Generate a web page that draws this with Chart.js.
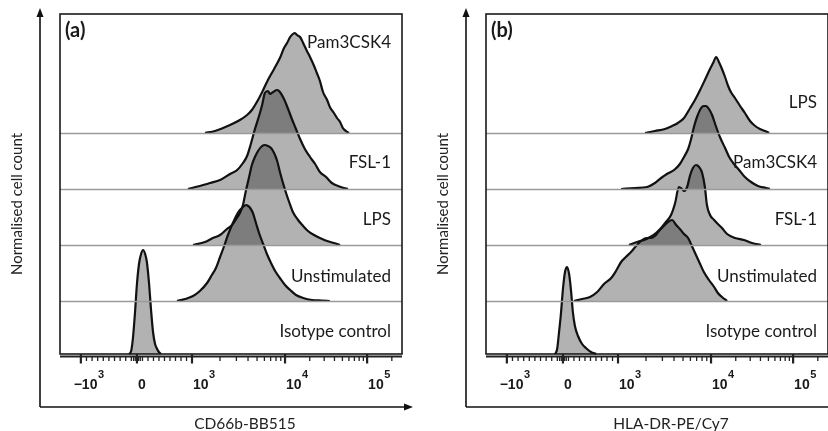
<!DOCTYPE html>
<html><head><meta charset="utf-8">
<script src="https://cdn.jsdelivr.net/npm/chart.js@4"></script>
<style>
html,body{margin:0;padding:0;background:#fff;overflow:hidden;width:828px;height:431px}
#wa{position:absolute;left:0;top:0;width:414px;height:431px}
#wb{position:absolute;left:426px;top:0;width:414px;height:431px}
</style></head><body>
<div id="wa"><canvas id="ca" width="414" height="431"></canvas></div>
<div id="wb"><canvas id="cb" width="414" height="431"></canvas></div>
<script>
// ---- axis ticks (display channel units 0-1000 of the biexponential axis) ----
const TICK_CH   = [61, 225, 386, 658, 898];
const TICK_BASE = ['\u221210', '0', '10', '10', '10'];
const TICK_EXP  = ['3', '', '3', '4', '5'];

// ---- row labels, bottom row first ----
const ROWS_A = ['Isotype control', 'Unstimulated', 'LPS', 'FSL-1', 'Pam3CSK4'];
const ROWS_B = ['Isotype control', 'Unstimulated', 'FSL-1', 'Pam3CSK4', 'LPS'];

// ---- panel (a): CD66b-BB515 histograms (x = channel, y = normalised count %) ----
const A_ISO_X = [202,208,213,219,225,231,237,243,249,254,260,266,272,278,284,289,295];
const A_ISO_Y = [0,3,15,40,70,90,100,104,100,92,72,45,22,10,5,2,0];
const A_UNS_X = [342,366,389,409,430,444,456,468,480,491,503,515,526,535,544,550,556,564,573,582,594,605,617,629,643,658,673,690,711,737,766,789];
const A_UNS_Y = [0,2,5,10,18,26,33,44,55,66,76,85,91,94,96,95,93,88,78,68,57,47,38,30,23,16,11,6,3,1,0.5,0];
const A_LPS_X = [389,424,447,468,488,503,515,526,535,544,553,561,570,579,591,599,608,617,626,635,643,652,661,670,681,696,711,725,743,760,781,801,819];
const A_LPS_Y = [0,3,7,10,16,20,26,32,40,55,68,80,88,94,99,100,99,97,92,84,73,62,52,43,33,25,19,14,10,7,4,2,0];
const A_FSL_X = [374,409,439,468,497,518,535,547,558,570,582,591,599,608,614,623,635,643,655,667,678,690,702,716,731,746,760,778,795,813,830,842];
const A_FSL_Y = [0,3,6,9,15,19,26,33,45,60,73,84,96,98,95,97,99,97,90,80,70,60,50,40,32,25,17,12,6,3,1,0];
const A_PAM_X = [424,453,497,526,547,561,579,594,608,626,643,655,664,673,681,687,693,702,711,722,731,743,751,760,769,781,789,801,810,819,827,836,845];
const A_PAM_Y = [0,2,8,13,18,23,33,43,53,64,75,85,90,96,99,100,98,96,90,82,76,67,60,52,41,33,26,20,15,11,5,2,0];

// ---- panel (b): HLA-DR-PE/Cy7 histograms ----
const B_ISO_X = [202,208,213,219,225,231,237,243,249,254,260,269,281,292,307,322];
const B_ISO_Y = [0,5,20,40,65,82,87,80,62,42,28,18,10,6,2,0];
const B_UNS_X = [257,281,304,325,345,366,380,395,409,424,439,453,468,482,494,506,520,532,544,556,567,579,591,602,614,626,637,652,667,678,690,705];
const B_UNS_Y = [0,2,4,9,17,23,30,39,44,49,55,60,63,63,65,70,75,79,81,76,72,67,63,55,46,37,29,21,14,8,4,0];
const B_FSL_X = [418,442,462,480,497,512,526,541,553,564,573,579,588,597,605,614,623,632,640,646,655,667,678,690,705,728,754,778,804];
const B_FSL_Y = [0,3,5,8,12,17,23,30,42,58,56,54,58,70,77,80,78,72,58,40,30,25,21,17,11,7,5,2,0];
const B_PAM_X = [395,436,471,494,512,529,550,567,579,591,599,608,617,629,637,643,652,661,673,684,699,711,725,740,757,775,795,819,830];
const B_PAM_Y = [0,1,2,6,11,15,19,25,32,40,49,62,72,81,83,83,80,74,62,52,41,32,25,19,12,7,3,1,0];
const B_LPS_X = [465,494,523,544,561,579,597,611,626,640,655,664,673,681,690,699,708,716,728,743,757,772,787,801,816,828];
const B_LPS_Y = [0,2,4,7,10,15,25,33,43,53,64,70,76,71,64,56,47,41,35,27,20,12,7,4,2,0];

// ---- layout (row baselines in y units, label offsets) ----
const ROW_BASE = [0, 53, 109, 165, 221];
const LABEL_OFF_A = [22, 24, 25, 26, 90];
const LABEL_OFF_B = [22, 24, 25, 26, 30];

const FONT = 'Lato, "Open Sans", sans-serif';

function series(xs, ys, base) {
  return xs.map((x, i) => ({x: x, y: base + ys[i]}));
}
function makeDatasets(list) {
  return list.map((s, i) => ({
    data: series(s[0], s[1], ROW_BASE[i]),
    borderColor: '#111',
    borderWidth: 2.2,
    backgroundColor: 'rgba(0,0,0,0.30)',
    fill: {value: ROW_BASE[i]},
    pointRadius: 0,
    cubicInterpolationMode: 'monotone',
    clip: 2
  }));
}

function arrowHead(ctx, x, y, dir) {
  ctx.beginPath();
  if (dir === 'up') { ctx.moveTo(x, y); ctx.lineTo(x - 3.5, y + 9); ctx.lineTo(x + 3.5, y + 9); }
  else { ctx.moveTo(x, y); ctx.lineTo(x - 9, y - 3.5); ctx.lineTo(x - 9, y + 3.5); }
  ctx.closePath(); ctx.fill();
}

const decor = {
  id: 'decor',
  afterDatasetsDraw(chart, args, o) {
    const ctx = chart.ctx, a = chart.chartArea;
    const xs = chart.scales.x, ys = chart.scales.y;
    ctx.save();
    // row baselines
    ctx.strokeStyle = '#9a9a9a'; ctx.lineWidth = 1.4;
    for (let i = 1; i < ROW_BASE.length; i++) {
      const py = Math.round(ys.getPixelForValue(ROW_BASE[i])) + 0.5;
      ctx.beginPath(); ctx.moveTo(a.left, py); ctx.lineTo(a.right, py); ctx.stroke();
    }
    // box
    ctx.strokeStyle = '#1a1a1a'; ctx.lineWidth = 1.6;
    ctx.strokeRect(a.left, a.top, a.right - a.left, a.bottom - a.top);
    // axis line with ticks
    const ay = a.bottom + 2.5;
    ctx.lineWidth = 2; ctx.strokeStyle = '#222';
    ctx.beginPath(); ctx.moveTo(a.left, ay); ctx.lineTo(a.right, ay); ctx.stroke();
    const [cN, c0, c3, c4, c5] = TICK_CH;
    const minors = [];
    for (let i = 1; i < 10; i++) { minors.push(c0 - (c0 - cN) * i / 10, c0 + (c3 - c0) * i / 10); }
    [0.03, 0.06].forEach(f => minors.push(c0 - (c0 - cN) * f, c0 + (c3 - c0) * f));
    for (let m = 2; m < 10; m++) {
      const l = Math.log10(m);
      minors.push(c3 + l * (c4 - c3), c4 + l * (c5 - c4), c5 + l * (c5 - c4));
    }
    ctx.lineWidth = 1.3;
    minors.forEach(c => {
      if (c > xs.max) return;
      const px = xs.getPixelForValue(c);
      ctx.beginPath(); ctx.moveTo(px, ay); ctx.lineTo(px, ay + 4.5); ctx.stroke();
    });
    ctx.lineWidth = 2.2;
    TICK_CH.forEach(c => {
      const px = xs.getPixelForValue(c);
      ctx.beginPath(); ctx.moveTo(px, a.bottom); ctx.lineTo(px, ay + 7); ctx.stroke();
    });
    // tick labels
    ctx.fillStyle = '#1a1a1a'; ctx.textBaseline = 'alphabetic';
    TICK_CH.forEach((c, i) => {
      const px = xs.getPixelForValue(c);
      ctx.font = 'bold 14px "Liberation Sans", Arial, sans-serif';
      if (!TICK_EXP[i]) {
        ctx.textAlign = 'center'; ctx.fillText(TICK_BASE[i], px + 5, 388.5);
        return;
      }
      const w10 = ctx.measureText('10').width;
      const rx = px + 1 + w10;
      ctx.textAlign = 'right'; ctx.fillText(TICK_BASE[i], rx, 388.5);
      ctx.font = 'bold 11px "Liberation Sans", Arial, sans-serif';
      ctx.textAlign = 'left'; ctx.fillText(TICK_EXP[i], rx + 0.5, 378);
    });
    // arrows
    ctx.strokeStyle = '#111'; ctx.fillStyle = '#111'; ctx.lineWidth = 1.6;
    ctx.beginPath(); ctx.moveTo(40, 407); ctx.lineTo(40, 15); ctx.stroke();
    arrowHead(ctx, 40, 8, 'up');
    ctx.beginPath(); ctx.moveTo(40, 407); ctx.lineTo(405, 407); ctx.stroke();
    arrowHead(ctx, 413, 407, 'right');
    // axis titles
    ctx.fillStyle = '#222';
    ctx.font = '15.5px ' + FONT;
    ctx.textAlign = 'center'; ctx.textBaseline = 'middle';
    ctx.fillText(o.xTitle, (a.left + a.right) / 2 + 14, 424);
    ctx.save();
    ctx.translate(17, 204); ctx.rotate(-Math.PI / 2);
    ctx.font = '15px ' + FONT;
    ctx.fillText('Normalised cell count', 0, 0);
    ctx.restore();
    // row labels
    ctx.fillStyle = '#1a1a1a';
    ctx.font = '17px ' + FONT;
    ctx.textAlign = 'right'; ctx.textBaseline = 'middle';
    o.rows.forEach((t, i) => {
      ctx.fillText(t, a.right - 11, ys.getPixelForValue(ROW_BASE[i] + o.labelOff[i]));
    });
    // panel letter
    ctx.font = 'bold 20px ' + FONT;
    ctx.textAlign = 'left';
    ctx.fillText(o.letter, a.left + 5, 31);
    ctx.restore();
  }
};

function makeChart(id, list, opts) {
  return new Chart(document.getElementById(id), {
    type: 'line',
    data: {datasets: makeDatasets(list)},
    plugins: [decor],
    options: {
      responsive: false, animation: false, devicePixelRatio: 1,
      layout: {padding: {left: 60, right: 12, top: 14, bottom: 77}},
      scales: {
        x: {type: 'linear', min: 0, max: 1000, display: false},
        y: {type: 'linear', min: 0, max: 340, display: false}
      },
      plugins: {legend: {display: false}, tooltip: {enabled: false}, decor: opts}
    }
  });
}

makeChart('ca', [[A_ISO_X, A_ISO_Y], [A_UNS_X, A_UNS_Y], [A_LPS_X, A_LPS_Y], [A_FSL_X, A_FSL_Y], [A_PAM_X, A_PAM_Y]],
  {letter: '(a)', xTitle: 'CD66b-BB515', rows: ROWS_A, labelOff: LABEL_OFF_A});
makeChart('cb', [[B_ISO_X, B_ISO_Y], [B_UNS_X, B_UNS_Y], [B_FSL_X, B_FSL_Y], [B_PAM_X, B_PAM_Y], [B_LPS_X, B_LPS_Y]],
  {letter: '(b)', xTitle: 'HLA-DR-PE/Cy7', rows: ROWS_B, labelOff: LABEL_OFF_B});
</script>
</body></html>
